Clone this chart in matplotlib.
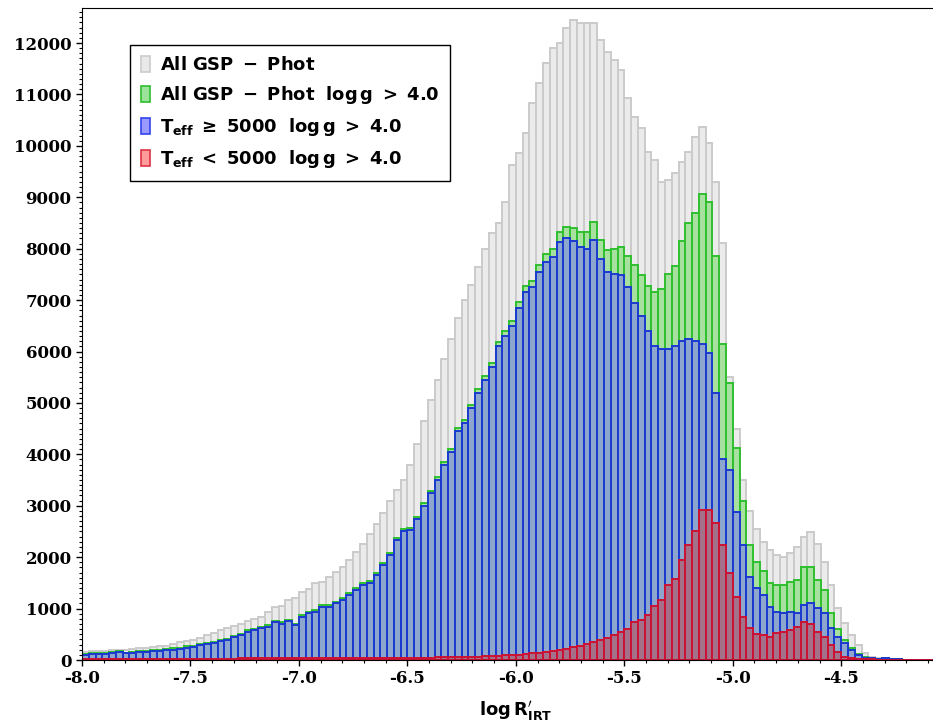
import numpy as np
import matplotlib
matplotlib.use('Agg')
import matplotlib.pyplot as plt
from matplotlib.patches import Patch
from matplotlib.ticker import MultipleLocator, FormatStrFormatter

plt.rcParams['mathtext.fontset'] = 'dejavusans'

# histogram counts, bins of 1/32 dex starting at -8.0
all_phot = [160, 170, 170, 180, 190, 200, 200, 220, 230, 240,
            260, 270, 280, 320, 350, 370, 390, 430, 480, 530,
            580, 620, 660, 710, 750, 790, 840, 930, 1030, 1050,
            1160, 1200, 1330, 1390, 1490, 1520, 1620, 1720, 1810, 1940,
            2100, 2250, 2450, 2650, 2850, 3100, 3300, 3500, 3800, 4200,
            4650, 5050, 5450, 5850, 6250, 6650, 7000, 7300, 7650, 8000,
            8300, 8500, 8900, 9630, 9860, 10250, 10830, 11220, 11610, 11900,
            12000, 12290, 12450, 12390, 12390, 12390, 12060, 11820, 11670, 11470,
            10930, 10560, 10350, 9880, 9720, 9300, 9330, 9470, 9680, 9880,
            10170, 10370, 10050, 9300, 8110, 5500, 4500, 3500, 2900, 2550,
            2300, 2140, 2040, 2000, 2080, 2200, 2400, 2490, 2250, 1900,
            1460, 1010, 720, 490, 290, 140, 60, 30, 20, 15,
            10, 5, 0, 0, 0, 0, 0, 0]

phot_dwarf = [120, 130, 135, 140, 150, 170, 145, 150, 170, 180,
              190, 200, 215, 225, 235, 265, 275, 315, 335, 355,
              385, 415, 475, 510, 580, 610, 650, 680, 760, 740,
              780, 710, 870, 940, 970, 1070, 1075, 1135, 1205, 1295,
              1395, 1495, 1535, 1685, 1890, 2090, 2370, 2540, 2570, 2790,
              3045, 3295, 3550, 3850, 4105, 4510, 4660, 4965, 5265, 5520,
              5775, 6185, 6395, 6600, 6955, 7265, 7380, 7690, 7900, 8000,
              8320, 8420, 8400, 8320, 8320, 8520, 8170, 7970, 8000, 8030,
              7850, 7690, 7485, 7270, 7160, 7225, 7510, 7670, 8140, 8490,
              8700, 9070, 8900, 7860, 6140, 5390, 4115, 3085, 2240, 1900,
              1740, 1490, 1460, 1460, 1520, 1560, 1800, 1810, 1560, 1360,
              910, 610, 395, 230, 120, 55, 40, 25, 35, 20,
              10, 0, 0, 0, 0, 0, 0, 0]

hot_dwarf = [100, 110, 120, 120, 130, 150, 130, 130, 150, 160,
             170, 180, 190, 200, 210, 240, 250, 290, 310, 330,
             360, 390, 450, 480, 550, 580, 620, 650, 730, 710,
             750, 680, 840, 910, 940, 1040, 1040, 1100, 1170, 1260,
             1360, 1460, 1500, 1650, 1850, 2050, 2330, 2500, 2530, 2750,
             3000, 3250, 3500, 3800, 4050, 4450, 4600, 4900, 5200, 5450,
             5700, 6100, 6300, 6500, 6850, 7150, 7250, 7550, 7750, 7830,
             8130, 8210, 8150, 8040, 8000, 8170, 7790, 7550, 7510, 7490,
             7250, 6950, 6700, 6400, 6100, 6050, 6050, 6100, 6200, 6250,
             6200, 6150, 5980, 5200, 3900, 3700, 2880, 2240, 1620, 1400,
             1260, 1040, 940, 910, 940, 910, 1070, 1100, 1010, 910,
             620, 450, 330, 190, 100, 40, 30, 20, 30, 20,
             10, 0, 0, 0, 0, 0, 0, 0]

cool_dwarf = [20, 20, 15, 20, 20, 20, 15, 20, 20, 20,
              20, 20, 25, 25, 25, 25, 25, 25, 25, 25,
              25, 25, 25, 30, 30, 30, 30, 30, 30, 30,
              30, 30, 30, 30, 30, 30, 35, 35, 35, 35,
              35, 35, 35, 35, 40, 40, 40, 40, 40, 42,
              45, 45, 50, 50, 55, 60, 60, 65, 65, 70,
              75, 85, 95, 100, 105, 115, 130, 140, 150, 170,
              190, 210, 250, 280, 320, 350, 380, 420, 490, 540,
              600, 740, 785, 870, 1060, 1175, 1460, 1570, 1940, 2240,
              2500, 2920, 2920, 2660, 2240, 1690, 1235, 845, 620, 500,
              480, 450, 520, 550, 580, 650, 730, 710, 550, 450,
              290, 160, 65, 40, 20, 15, 10, 5, 5, 0,
              0, 0, 0, 0, 0, 0, 0, 0]

labels = [r'$\mathbf{All\ GSP\ -\ Phot}$',
          r'$\mathbf{All\ GSP\ -\ Phot\ \ log\,g\ >\ 4.0}$',
          r'$\mathbf{T_{eff}\ \geq\ 5000\ \ log\,g\ >\ 4.0}$',
          r'$\mathbf{T_{eff}\ <\ 5000\ \ log\,g\ >\ 4.0}$']

bin_w = 1.0 / 32
edges = -8.0 + bin_w * np.arange(len(all_phot))

fig = plt.figure(figsize=(9.33, 7.26), dpi=100)
ax = fig.add_axes([0.0879, 0.0909, 0.930, 0.898])

series = [all_phot, phot_dwarf, hot_dwarf, cool_dwarf]
faces = ['#ebebeb', '#a8e0a0', '#8ca6cd', '#a4718a']
edgec = ['#cbcbcb', '#2fbf2f', '#1a3ad0', '#cc1133']
for vals, fc, ec in zip(series, faces, edgec):
    ax.bar(edges, vals, width=bin_w, align='edge', facecolor=fc,
           edgecolor=ec, linewidth=1.4)

ax.set_xlim(-8.0, -4.0)
ax.set_ylim(0, 12680)

ax.xaxis.set_major_locator(MultipleLocator(0.5))
ax.xaxis.set_minor_locator(MultipleLocator(0.1))
ax.xaxis.set_major_formatter(FormatStrFormatter('%.1f'))
ax.yaxis.set_major_locator(MultipleLocator(1000))
ax.yaxis.set_minor_locator(MultipleLocator(100))
ax.tick_params(which='major', direction='out', length=4, width=1, labelsize=12)
ax.tick_params(which='minor', direction='out', length=2, width=0.8)
for lab in ax.get_xticklabels() + ax.get_yticklabels():
    lab.set_fontfamily('DejaVu Serif')
    lab.set_fontweight('bold')

ax.set_xlabel(r'$\mathbf{log\,R^{\prime}_{IRT}}$', fontsize=13, labelpad=8)

leg_faces = ['#e9e9e9', '#9be39b', '#9b9bff', '#ff9b9b']
leg_edges = ['#cccccc', '#2fbf2f', '#3344ee', '#dd3344']
handles = [Patch(facecolor=f, edgecolor=e, linewidth=1.2)
           for f, e in zip(leg_faces, leg_edges)]
leg = ax.legend(handles, labels, loc='upper left', bbox_to_anchor=(0.055, 0.943),
                borderaxespad=0, fontsize=13, handlelength=0.55, handleheight=1.0,
                handletextpad=0.5, labelspacing=0.55, fancybox=False,
                framealpha=1, borderpad=0.6)
leg.get_frame().set_edgecolor('black')
leg.get_frame().set_linewidth(1.0)

fig.savefig('out.png', dpi=100)
